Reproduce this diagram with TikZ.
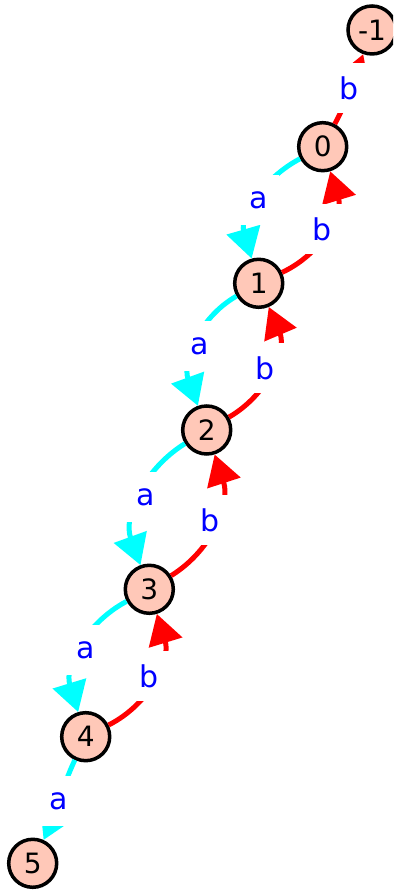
\documentclass[tikz,border=0pt]{standalone}
\usepackage{fontspec}
\setmainfont{DejaVu Sans}
\usetikzlibrary{arrows.meta}
\definecolor{nodefill}{RGB}{255,200,184}
\definecolor{acol}{RGB}{0,255,255}
\definecolor{bcol}{RGB}{255,0,0}
\definecolor{lcol}{RGB}{0,0,255}
\begin{document}
\begin{tikzpicture}[x=1pt,y=1pt,
  st/.style={circle,draw=black,line width=3.5pt,fill=nodefill,minimum size=48pt,inner sep=0pt,font=\fontsize{28}{32}\selectfont},
  lbl/.style={fill=white,text=lcol,minimum width=40pt,minimum height=50pt,inner sep=0pt,font=\fontsize{30}{34}\selectfont},
  ea/.style={draw=acol,line width=5pt,-{Triangle[length=30pt,width=34pt]},fill=none},
  eb/.style={draw=bcol,line width=5pt,-{Triangle[length=30pt,width=34pt]},fill=none}]
\useasboundingbox (0,0) rectangle (393,890);
\clip (0,0) rectangle (393,890);
\node[st] (nm1) at (372,860) {-1};
\node[st] (n0) at (322.7,743.3) {0};
\node[st] (n1) at (258.7,606.7) {1};
\node[st] (n2) at (206.7,460) {2};
\node[st] (n3) at (149.3,300.7) {3};
\node[st] (n4) at (85.7,153.3) {4};
\node[st] (n5) at (32.7,26.7) {5};
\draw[ea] (n0) to[out=208,in=106] (n1);
\draw[ea] (n1) to[out=210,in=110] (n2);
\draw[ea] (n2) to[out=212,in=110] (n3);
\draw[ea] (n3) to[out=208,in=107] (n4);
\draw[ea] (n4) to[out=245,in=65] (n5);
\draw[eb] (n0) to[out=62,in=250] (nm1);
\draw[eb] (n1) to[out=25,in=287] (n0);
\draw[eb] (n2) to[out=30,in=293] (n1);
\draw[eb] (n3) to[out=32,in=288] (n2);
\draw[eb] (n4) to[out=27,in=287] (n3);
\node[lbl,minimum width=52pt] (lb0) at (351,802) {\makebox[0pt]{\hspace*{-4pt}b}};
\node[lbl] (la0) at (259,690) {a};
\node[lbl] (lb1) at (322,661) {b};
\node[lbl] (la1) at (200,544) {a};
\node[lbl] (lb2) at (265,522) {b};
\node[lbl] (la2) at (146,393) {a};
\node[lbl] (lb3) at (210,370) {b};
\node[lbl] (la3) at (86,240) {a};
\node[lbl] (lb4) at (149,214) {b};
\node[lbl] (la4) at (59,89) {a};
\end{tikzpicture}
\end{document}
